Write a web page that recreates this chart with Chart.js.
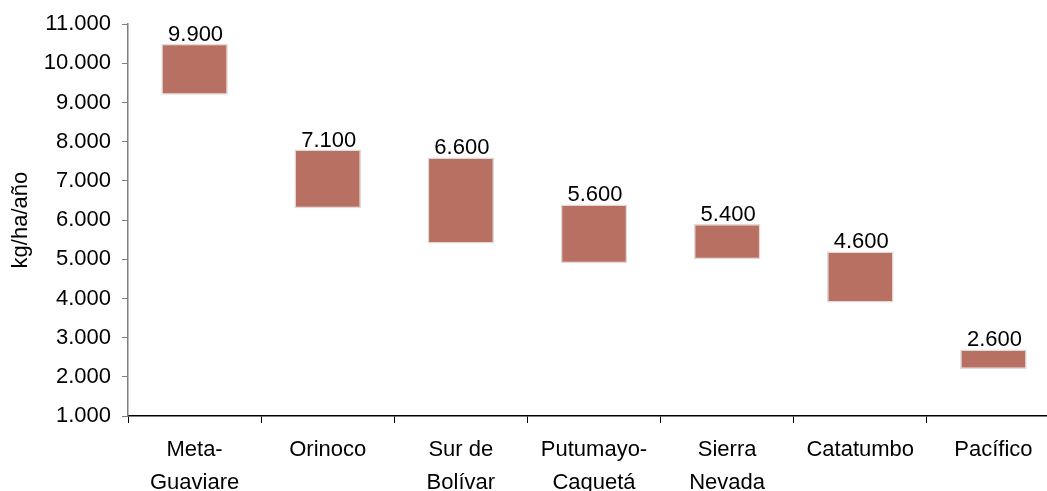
<!DOCTYPE html>
<html>
<head>
<meta charset="utf-8">
<script src="https://cdn.jsdelivr.net/npm/chart.js@4"></script>
<style>
  html, body { margin: 0; padding: 0; background: #fff; overflow: hidden; }
  #wrap { width: 1060px; height: 491px; }
</style>
</head>
<body>
<div id="wrap"><canvas id="chart"></canvas></div>
<script>
// datos del gráfico
const regiones = [['Meta-', 'Guaviare'], 'Orinoco', ['Sur de', 'Bolívar'], ['Putumayo-', 'Caquetá'], ['Sierra', 'Nevada'], 'Catatumbo', 'Pacífico'];
const minimos = [9200, 6300, 5400, 4900, 5000, 3900, 2200];
const maximos = [10500, 7800, 7600, 6400, 5900, 5200, 2700];
const promedios = [9900, 7100, 6600, 5600, 5400, 4600, 2600];
const ejeY = { min: 1000, max: 11000, paso: 1000 };

// formato con punto de miles
function fmt(v) {
    return String(Math.round(v)).replace(/\B(?=(\d{3})+(?!\d))/g, '.');
}

const fuente = 'Arial, "Liberation Sans", sans-serif';

// etiquetas de valor encima de cada barra
const etiquetas = {
    id: 'etiquetas',
    afterDatasetsDraw(chart) {
        const ctx = chart.ctx;
        const meta = chart.getDatasetMeta(0);
        ctx.save();
        ctx.font = '22px ' + fuente;
        ctx.fillStyle = '#000';
        ctx.textAlign = 'center';
        ctx.textBaseline = 'alphabetic';
        meta.data.forEach((bar, i) => {
            const top = Math.min(bar.y, bar.base);
            ctx.fillText(fmt(promedios[i]), bar.x + 1, top - 3);
        });
        ctx.restore();
    }
};

new Chart(document.getElementById('chart'), {
    type: 'bar',
    data: {
        labels: regiones,
        datasets: [{
            data: minimos.map((v, i) => [v, maximos[i]]),
            backgroundColor: '#b87062',
            borderColor: '#e2d9d6',
            borderWidth: 1.5,
            borderSkipped: false,
            barPercentage: 0.5,
            categoryPercentage: 1.0
        }]
    },
    options: {
        responsive: true,
        maintainAspectRatio: false,
        animation: false,
        layout: { padding: { top: 23, left: 8, right: 0, bottom: 0 } },
        plugins: {
            legend: { display: false },
            tooltip: { enabled: false }
        },
        scales: {
            x: {
                offset: true,
                afterFit: (s) => { s.height = 75; },
                grid: { display: true, offset: true, drawOnChartArea: false, drawTicks: true, tickLength: 7, color: '#000' },
                border: { display: true, color: '#000', width: 1.5 },
                ticks: { color: '#000', font: { family: fuente, size: 22, lineHeight: 1.5 }, padding: 10, maxRotation: 0, autoSkip: false }
            },
            y: {
                min: ejeY.min,
                max: ejeY.max,
                afterFit: (s) => { s.width = 120; },
                grid: { display: true, drawOnChartArea: false, drawTicks: true, tickLength: 6, color: '#808080' },
                border: { display: true, color: '#808080', width: 1.5 },
                ticks: {
                    stepSize: ejeY.paso,
                    color: '#000',
                    padding: 11,
                    font: { family: fuente, size: 22 },
                    callback: (v) => fmt(v)
                },
                title: {
                    display: true,
                    text: 'kg/ha/año',
                    color: '#000',
                    font: { family: fuente, size: 22 },
                    padding: { top: 0, bottom: 0 }
                }
            }
        }
    },
    plugins: [etiquetas]
});
</script>
</body>
</html>
